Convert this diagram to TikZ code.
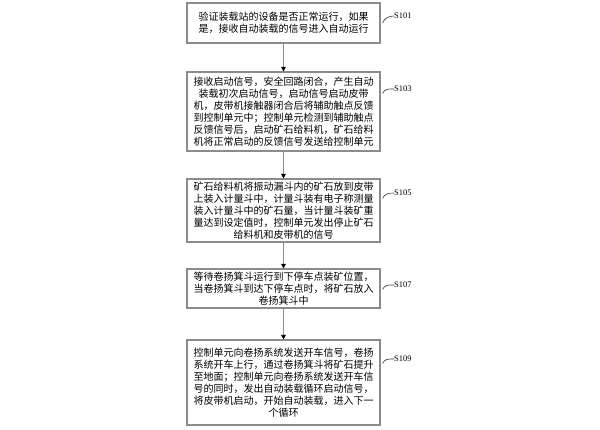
\documentclass[tikz,border=0pt]{standalone}
\usepackage{fontspec}
\setmainfont{Liberation Serif}
\newfontfamily\cjk{Noto Sans CJK SC}
\usetikzlibrary{arrows.meta}
\definecolor{boxgray}{HTML}{8C8C8C}
\tikzset{
  stepbox/.style={draw=boxgray, line width=1.1pt, fill=white, minimum width=193pt,
    inner xsep=2pt, inner ysep=1pt, align=center, font=\cjk\fontsize{10}{12.1}\selectfont, text=black},
  flow/.style={draw=boxgray, line width=1.1pt, -{Triangle[length=4.5pt,width=4.5pt,color=black]}},
  steplabel/.style={anchor=west, inner sep=0pt, font=\fontsize{8.5}{10}\selectfont},
  tie/.style={draw=black!80, line width=0.6pt}
}
\begin{document}
\begin{tikzpicture}[x=1pt,y=1pt]
\useasboundingbox (0,0) rectangle (600,-429);
\node[stepbox, minimum height=40pt] (b1) at (283.5,-23)
  {验证装载站的设备是否正常运行，如果\\是，接收自动装载的信号进入自动运行};
\node[stepbox, minimum height=79pt] (b2) at (283.5,-111.5)
  {接收启动信号，安全回路闭合，产生自动\\装载初次启动信号，启动信号启动皮带\\机，皮带机接触器闭合后将辅助触点反馈\\到控制单元中；控制单元检测到辅助触点\\反馈信号后，启动矿石给料机，矿石给料\\机将正常启动的反馈信号发送给控制单元};
\node[stepbox, minimum height=63pt] (b3) at (283.5,-210.5)
  {矿石给料机将振动漏斗内的矿石放到皮带\\上装入计量斗中，计量斗装有电子称测量\\装入计量斗中的矿石量，当计量斗装矿重\\量达到设定值时，控制单元发出停止矿石\\给料机和皮带机的信号};
\node[stepbox, minimum height=39pt] (b4) at (283.5,-288.5)
  {等待卷扬箕斗运行到下停车点装矿位置，\\当卷扬箕斗到达下停车点时，将矿石放入\\卷扬箕斗中};
\node[stepbox, minimum height=85pt] (b5) at (283.5,-382.5)
  {控制单元向卷扬系统发送开车信号，卷扬\\系统开车上行，通过卷扬箕斗将矿石提升\\至地面；控制单元向卷扬系统发送开车信\\号的同时，发出自动装载循环启动信号，\\将皮带机启动，开始自动装载，进入下一\\个循环};
\draw[flow] (b1) -- (b2);
\draw[flow] (b2) -- (b3);
\draw[flow] (b3) -- (b4);
\draw[flow] (b4) -- (b5);
\node[steplabel] (l1) at (394,-16) {S101};
\node[steplabel] (l2) at (394,-89) {S103};
\node[steplabel] (l3) at (394,-193) {S105};
\node[steplabel] (l4) at (394,-285) {S107};
\node[steplabel] (l5) at (394,-359) {S109};
\draw[tie] ([xshift=2pt]b1.east) .. controls +(2,5) and +(-5,0) .. (l1.west);
\draw[tie] ([xshift=2pt,yshift=18pt]b2.east) .. controls +(2,5) and +(-5,0) .. (l2.west);
\draw[tie] ([xshift=2pt,yshift=12pt]b3.east) .. controls +(2,5) and +(-5,0) .. (l3.west);
\draw[tie] ([xshift=2pt,yshift=-1pt]b4.east) .. controls +(2,5) and +(-5,0) .. (l4.west);
\draw[tie] ([xshift=2pt,yshift=19pt]b5.east) .. controls +(2,5) and +(-5,0) .. (l5.west);
\end{tikzpicture}
\end{document}
